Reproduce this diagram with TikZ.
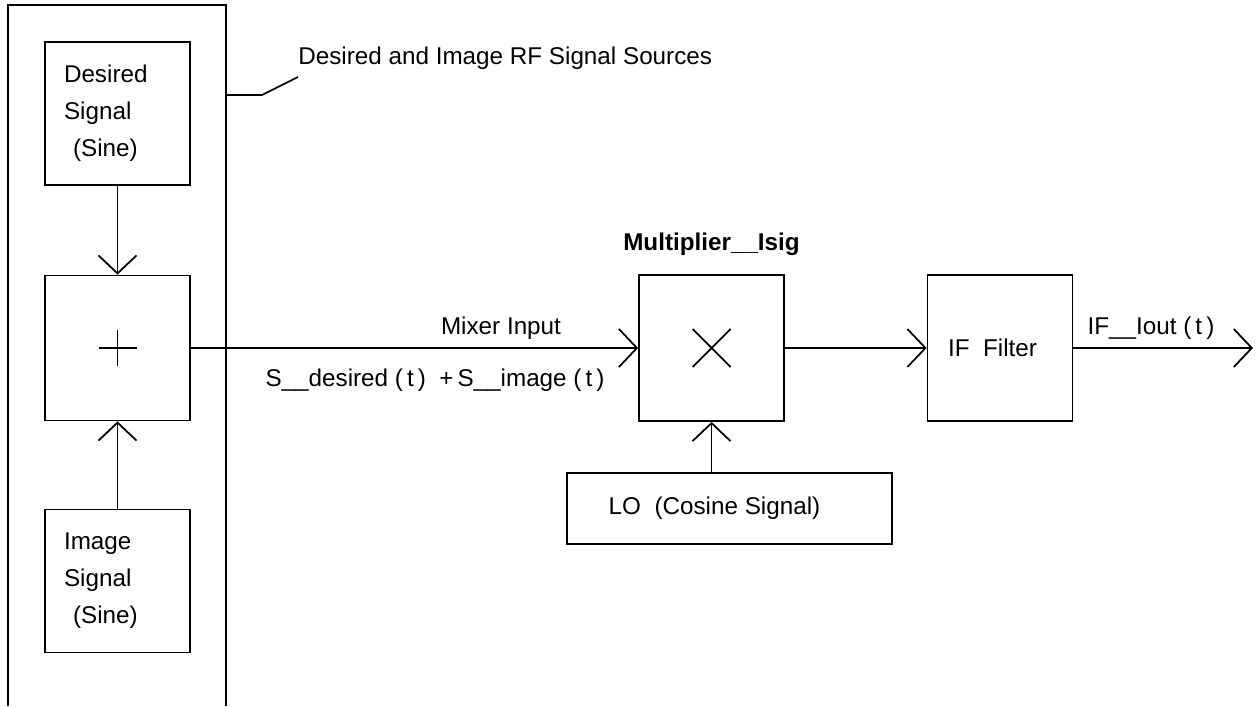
\documentclass[tikz,border=0pt]{standalone}
\usepackage{fontspec}
\setmainfont{Liberation Sans}
\usetikzlibrary{arrows.meta}

\begin{document}
\begin{tikzpicture}[x=0.02cm, y=-0.02cm,
  blk/.style={draw, line width=1pt, minimum width=2.9cm, minimum height=2.9cm,
              font=\fontsize{13.8}{21}\selectfont},
  srcblk/.style={blk, minimum height=2.86cm, text width=2.14cm, inner xsep=0.38cm,
              align=left},
  lbl/.style={font=\fontsize{13.8}{17}\selectfont, inner sep=0pt},
  wire/.style={line width=1pt},
  arrow/.style={-{Straight Barb[length=3.6mm, width=7.6mm]}, line width=1pt}]
\useasboundingbox (0,0) rectangle (1256,706);
% signal sources
\def\src#1#2#3{%
  \node[srcblk] (#1) at (117.5,#2) {#3\\Signal\\\hspace*{0.18cm}(Sine)};}
\src{dsig}{113.5}{Desired}
\src{isig}{581}{Image}
\node[blk] (plus) at (117.5,348) {};
\draw[wire] (plus.center) +(-19,0) -- +(19,0) +(0,-18) -- +(0,18);
\draw[arrow] (dsig) -- (plus);
\draw[arrow] (isig) -- (plus);
% group frame and its callout
\draw[wire] (8,706) |- (226,5) -- (226,706);
\coordinate (lead) at (226,95);
\coordinate (leadend) at (298,77);
\node[lbl, anchor=west] (srclbl) at (298,58) {Desired and Image RF Signal Sources};
\draw[wire] (lead) -- (262,95) -- (leadend);
% mixer
\node[blk, minimum height=2.92cm] (mult) at (711.5,348) {};
\draw[wire] (mult.center) +(-19,-19) -- +(19,19) +(-19,19) -- +(19,-19);
\node[lbl, font=\fontsize{13.8}{17}\selectfont\bfseries] (multname) at (711.5,244) {Multiplier\_\_Isig};
\node[blk, minimum width=6.5cm, minimum height=1.42cm] (lo) at (729.5,508.5) {LO\ \ (Cosine Signal)\hspace*{0.6cm}};
\node[blk, minimum height=2.92cm] (iff) at (1000,348) {IF\ \ Filter\hspace*{0.3cm}};
\coordinate (out) at (1253,348);
\draw[arrow] (plus) -- (mult);
\draw[arrow] (lo.north -| mult) -- (mult);
\draw[arrow] (mult) -- (iff);
\draw[arrow] (iff) -- (out);
% labels on the wires
\node[lbl] (mixin) at (501,328) {Mixer Input};
\node[lbl] (mixsum) at (435,380) {S\_\_desired (\,t\,)\ \ +\,S\_\_image (\,t\,)};
\node[lbl] (ifout) at (1151,328) {IF\_\_Iout (\,t\,)};
\end{tikzpicture}
\end{document}
